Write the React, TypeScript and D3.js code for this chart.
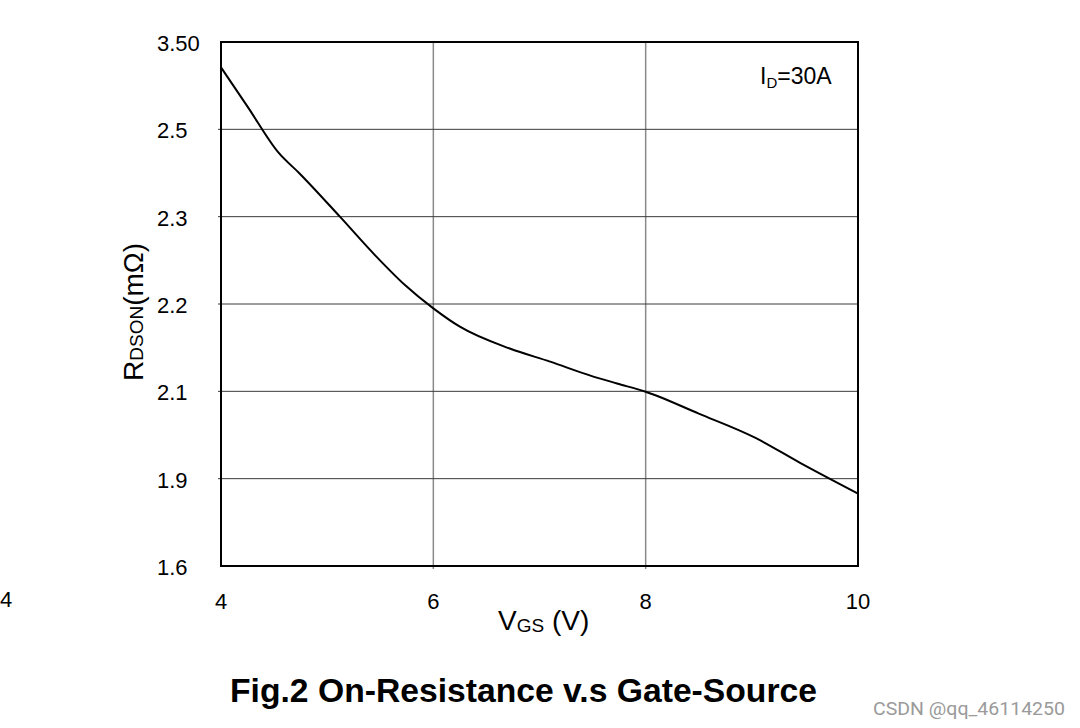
import React from "react";
import * as d3 from "d3";

// Data
const vgs = [4.0, 4.25, 4.54, 4.74, 5.12, 5.45, 5.73, 6.0, 6.25, 6.72, 7.1, 7.48, 7.73, 8.0, 8.5, 9.03, 9.45, 10.0];
const rdson = [3.21, 2.76, 2.447, 2.399, 2.30, 2.256, 2.222, 2.195, 2.174, 2.149, 2.134, 2.118, 2.109, 2.099, 2.049, 1.994, 1.937, 1.849];
const yTickLabels = ["3.50", "2.5", "2.3", "2.2", "2.1", "1.9", "1.6"];
const yTickValues = [3.5, 2.5, 2.3, 2.2, 2.1, 1.9, 1.6];
const xTicks = [4, 6, 8, 10];

const FONT = "'Liberation Sans', Arial, sans-serif";

export default function App() {
  const left = 221, right = 858, top = 42, bottom = 566;
  const x = d3.scaleLinear().domain([4, 10]).range([left, right]);
  const step = (bottom - top) / (yTickValues.length - 1);
  const y = d3
    .scaleLinear()
    .domain(yTickValues)
    .range(yTickValues.map((_, i) => top + i * step));

  const line = d3
    .line<number>()
    .x((_, i) => x(vgs[i]))
    .y((d) => y(d))
    .curve(d3.curveMonotoneX);

  return (
    <svg
      width={1080}
      height={728}
      style={{ position: "absolute", left: 0, top: 0, background: "#fff" }}
      fontFamily={FONT}
    >
      <rect x={0} y={0} width={1080} height={728} fill="#fff" />
      {/* vertical gridlines */}
      {xTicks.slice(1, -1).map((t) => (
        <line key={"vx" + t} x1={x(t)} x2={x(t)} y1={top} y2={bottom + 3} stroke="#8a8a8a" strokeWidth={1.5} />
      ))}
      {/* horizontal gridlines */}
      {yTickValues.slice(1, -1).map((t) => (
        <line key={"hy" + t} x1={left - 3} x2={right} y1={y(t)} y2={y(t)} stroke="#3a3a3a" strokeWidth={1} />
      ))}
      {/* frame */}
      <rect x={left} y={top} width={right - left} height={bottom - top} fill="none" stroke="#000" strokeWidth={2} />
      {/* curve */}
      <path d={line(rdson) || ""} fill="none" stroke="#000" strokeWidth={2} />
      {/* y tick labels */}
      {yTickLabels.map((lab, i) => (
        <text key={"yl" + lab} x={157} y={y(yTickValues[i]) + 9} fontSize={22} fill="#000">
          {lab}
        </text>
      ))}
      {/* x tick labels */}
      {xTicks.map((t) => (
        <text key={"xl" + t} x={x(t)} y={609} fontSize={22} textAnchor="middle" fill="#000">
          {t}
        </text>
      ))}
      <text x={0} y={607} fontSize={22} fill="#000">4</text>
      {/* ID=30A */}
      <text x={760} y={84} fontSize={23} fill="#000">
        I<tspan fontSize={15} dy={4}>D</tspan>
        <tspan dy={-4}>=30A</tspan>
      </text>
      {/* x axis title */}
      <text x={498} y={630} fontSize={28} fill="#000">
        V<tspan fontSize={19} dy={2}>GS</tspan>
        <tspan dy={-2}> (V)</tspan>
      </text>
      {/* y axis title */}
      <text transform="translate(143,381) rotate(-90)" fontSize={28} fill="#000">
        R<tspan fontSize={19}>DSON</tspan>
        <tspan>(mΩ)</tspan>
      </text>
      {/* figure title */}
      <text x={230} y={702} fontSize={33} fontWeight="bold" fill="#000" textLength={587} lengthAdjust="spacingAndGlyphs">
        Fig.2 On-Resistance v.s Gate-Source
      </text>
      {/* watermark */}
      <text x={873} y={715} fontSize={19} fill="#9a9a9a" fontFamily="Roboto, sans-serif" textLength={192} lengthAdjust="spacingAndGlyphs">
        CSDN @qq_46114250
      </text>
    </svg>
  );
}
